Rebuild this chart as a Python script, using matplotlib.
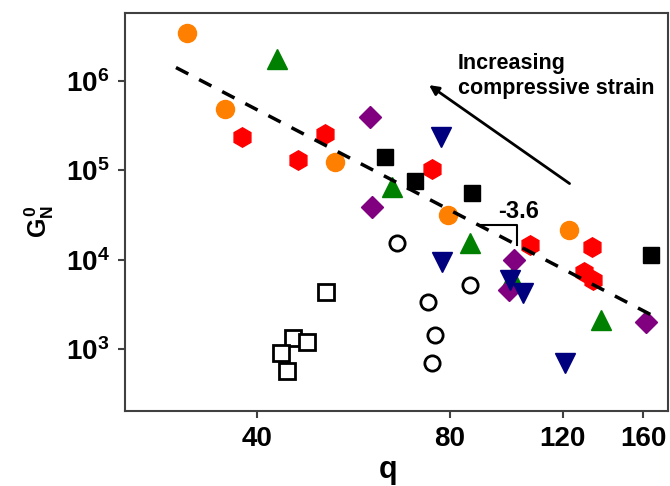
import matplotlib
matplotlib.use('Agg')
import matplotlib.pyplot as plt
from matplotlib.ticker import FixedLocator, NullLocator, FixedFormatter

plt.rcParams['font.family'] = ['Liberation Sans', 'DejaVu Sans']
plt.rcParams['font.weight'] = 'bold'
plt.rcParams['mathtext.fontset'] = 'custom'
plt.rcParams['mathtext.rm'] = 'Liberation Sans:bold'
plt.rcParams['mathtext.bf'] = 'Liberation Sans:bold'
plt.rcParams['mathtext.it'] = 'Liberation Sans:bold'

# data (q, G_N^0)
orange_q = [31.1, 35.6, 52.9, 79.5, 122.8]
orange_g = [3.47e6, 4.82e5, 1.25e5, 3.15e4, 2.14e4]

red_q = [37.9, 46.3, 51.1, 74.9, 106.6, 133.0, 129.5, 133.6]
red_g = [2.38e5, 1.30e5, 2.55e5, 1.05e5, 1.46e4, 1.37e4, 7.3e3, 5.9e3]

green_q = [42.9, 64.9, 86.0, 99.9, 137.6]
green_g = [1.75e6, 6.46e4, 1.55e4, 6.4e3, 2.1e3]

purple_q = [60.0, 60.4, 100.5, 98.7, 161.8]
purple_g = [3.98e5, 3.91e4, 1.0e4, 4.6e3, 2.02e3]

navy_q = [77.5, 77.6, 99.2, 104.1, 120.9]
navy_g = [2.38e5, 9.5e3, 5.9e3, 4.2e3, 690]

black_q = [63.4, 70.6, 86.5, 164.7]
black_g = [1.42e5, 7.66e4, 5.52e4, 1.12e4]

open_circ_q = [66.1, 74.0, 75.8, 74.9, 86.0]
open_circ_g = [1.55e4, 3.38e3, 1.43e3, 690, 5.2e3]

open_sq_q = [51.2, 45.6, 47.9, 43.6, 44.5]
open_sq_g = [4.38e3, 1.32e3, 1.21e3, 893, 570]

# power-law guide line, slope about -3.6
fit_q = [29.9, 170.1]
fit_g = [1.42e6, 2.14e3]

# slope marker corner points
tri_q = [88.5, 101.8, 101.8]
tri_g = [2.47e4, 2.47e4, 1.46e4]

fig = plt.figure(figsize=(6.7, 4.86), dpi=100)
ax = fig.add_axes([0.1866, 0.1543, 0.8104, 0.819])
ax.set_xscale('log')
ax.set_yscale('log')

ax.plot(orange_q, orange_g, 'o', color='#FF8000', ms=13, mec='#FF8000', ls='none')
ax.plot(red_q, red_g, 'h', color='#FF0000', ms=14, mec='#FF0000', ls='none')
ax.plot(green_q, green_g, '^', color='#008000', ms=14, mec='#008000', ls='none')
ax.plot(purple_q, purple_g, 'D', color='#800080', ms=11, mec='#800080', ls='none')
ax.plot(navy_q, navy_g, 'v', color='#00007F', ms=14, mec='#00007F', ls='none')
ax.plot(black_q, black_g, 's', color='black', ms=11, ls='none')
ax.plot(open_circ_q, open_circ_g, 'o', mfc='white', mec='black', mew=2, ms=11, ls='none')
ax.plot(open_sq_q, open_sq_g, 's', mfc='white', mec='black', mew=2, ms=11, ls='none')

ax.plot(fit_q, fit_g, color='black', lw=2.5, dashes=(4, 3.5), zorder=5)

ax.plot(tri_q, tri_g, color='black', lw=1.5, zorder=5)
ax.text(102.5, 3.5e4, '-3.6', fontsize=17, fontweight='bold', ha='center', va='center')

ax.annotate('', xy=(73.6, 9.4e5), xytext=(123.9, 6.84e4),
            arrowprops=dict(arrowstyle='-|>', color='black', lw=2, mutation_scale=14))
ax.text(82.3, 1.14e6, 'Increasing\ncompressive strain', fontsize=15.5, fontweight='bold',
        ha='left', va='center', linespacing=1.3)

ax.set_xlim(24.9, 175)
ax.set_ylim(202, 5.8e6)

ax.xaxis.set_major_locator(FixedLocator([40, 80, 120, 160]))
ax.xaxis.set_major_formatter(FixedFormatter(['40', '80', '120', '160']))
ax.xaxis.set_minor_locator(NullLocator())
ax.yaxis.set_major_locator(FixedLocator([1e3, 1e4, 1e5, 1e6]))
ax.yaxis.set_major_formatter(FixedFormatter([r'$10^{3}$', r'$10^{4}$', r'$10^{5}$', r'$10^{6}$']))
ax.yaxis.set_minor_locator(NullLocator())

ax.tick_params(labelsize=20, length=5, width=1.5, color='#404040', pad=6)
for sp in ax.spines.values():
    sp.set_color('#404040')
    sp.set_linewidth(1.5)

ax.set_xlabel('q', fontsize=22, fontweight='bold', labelpad=2)
ax.xaxis.label.set_x(0.484)
ax.set_ylabel(r'$G_N^0$', fontsize=18)
ax.yaxis.set_label_coords(-0.128, 0.475)

fig.savefig('out.png', dpi=100)
